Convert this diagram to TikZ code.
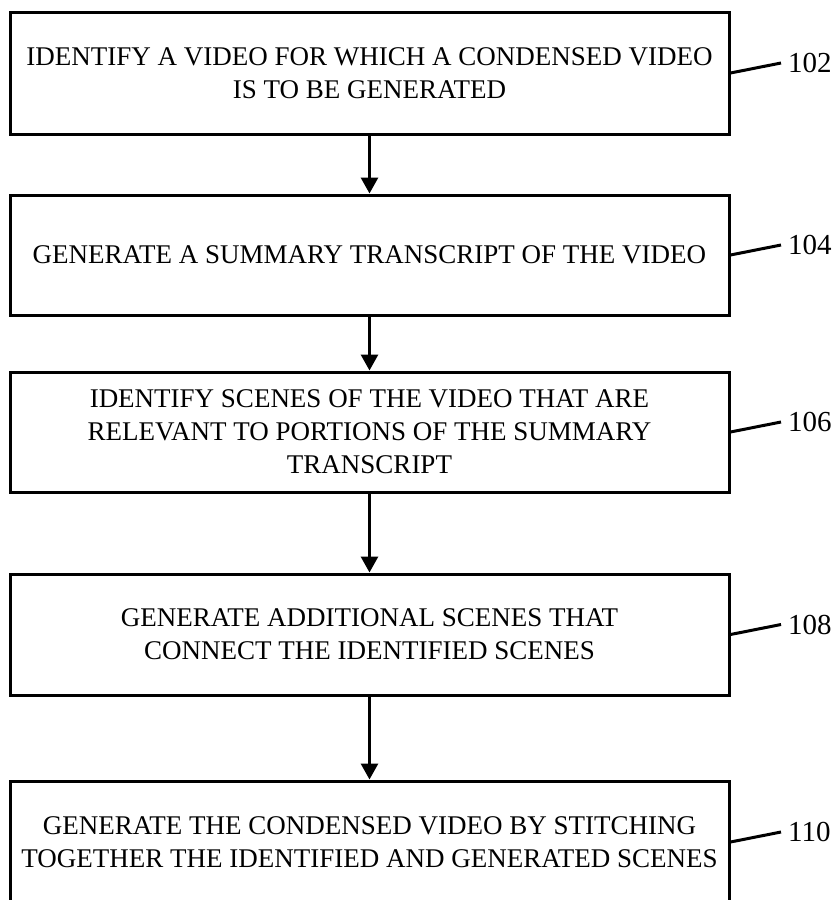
\documentclass[tikz,border=0pt]{standalone}
\usepackage{fontspec}
\setmainfont{Liberation Serif}
\usetikzlibrary{arrows.meta,calc}
\begin{document}
\begin{tikzpicture}[x=1pt,y=-1pt,
  stepbox/.style={draw=black,line width=3pt,fill=white,inner sep=0pt,
    minimum width=719pt,align=center,
    font=\fontsize{27pt}{33pt}\selectfont},
  flow/.style={line width=3pt,-{Triangle[width=17pt,length=16pt]}},
  lblline/.style={line width=3pt},
  lbl/.style={anchor=west,inner xsep=7pt,inner ysep=0pt,font=\fontsize{29pt}{33pt}\selectfont}]
\clip (0,0) rectangle (837,900);
\fill[white] (0,0) rectangle (837,900);
\node[stepbox,minimum height=122pt] (b1) at (369.5,73)
  {IDENTIFY A VIDEO FOR WHICH A CONDENSED VIDEO\\IS TO BE GENERATED};
\node[stepbox,minimum height=120pt] (b2) at (369.5,255)
  {GENERATE A SUMMARY TRANSCRIPT OF THE VIDEO};
\node[stepbox,minimum height=120pt] (b3) at (369.5,432)
  {IDENTIFY SCENES OF THE VIDEO THAT ARE\\RELEVANT TO PORTIONS OF THE SUMMARY\\TRANSCRIPT};
\node[stepbox,minimum height=121pt] (b4) at (369.5,634.5)
  {GENERATE ADDITIONAL SCENES THAT\\CONNECT THE IDENTIFIED SCENES};
\node[stepbox,minimum height=122pt] (b5) at (369.5,842)
  {GENERATE THE CONDENSED VIDEO BY STITCHING\\TOGETHER THE IDENTIFIED AND GENERATED SCENES};
\draw[flow] (b1.south) -- (b2.north);
\draw[flow] (b2.south) -- (b3.north);
\draw[flow] (b3.south) -- (b4.north);
\draw[flow] (b4.south) -- (b5.north);
\foreach \b/\n in {b1/102,b2/104,b3/106,b4/108,b5/110}{
  \coordinate (e\b) at ($(\b.east)+(50.5,-10)$);
  \node[lbl] (l\b) at (e\b) {\n};
  \draw[lblline] (\b.east) -- (e\b);
}
\end{tikzpicture}
\end{document}
